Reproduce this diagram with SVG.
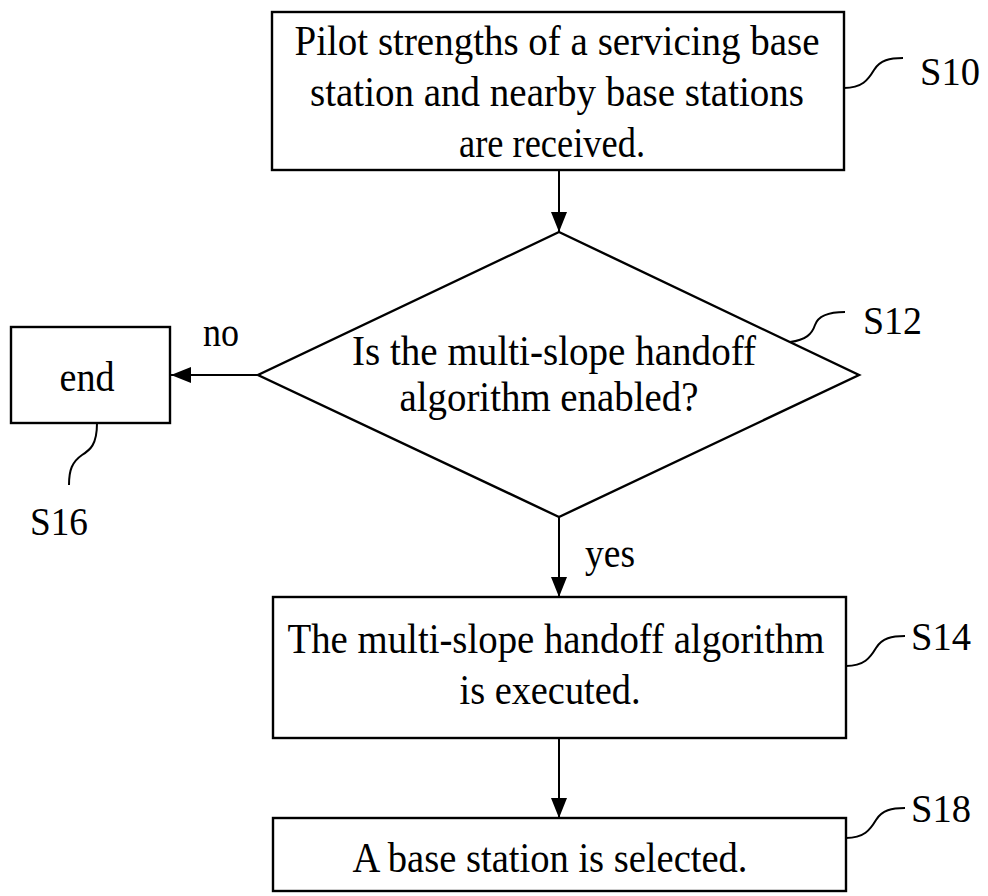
<svg xmlns="http://www.w3.org/2000/svg" width="988" height="896" viewBox="0 0 988 896">
<defs>
<style>
.box{fill:#fff;stroke:#000;stroke-width:2.4}
.t{font-family:"Liberation Serif","Times New Roman",serif;font-size:42px;fill:#000}
.lbl{font-family:"Liberation Serif","Times New Roman",serif;font-size:41px;fill:#000}
.c{text-anchor:middle}
.line{fill:none;stroke:#000;stroke-width:2}
.lead{fill:none;stroke:#000;stroke-width:2}
</style>
<marker id="ah" viewBox="0 0 20 16" refX="20" refY="8" markerWidth="20" markerHeight="16" markerUnits="userSpaceOnUse" orient="auto">
<path d="M0,0 L20,8 L0,16 Z" fill="#000"/>
</marker>
</defs>
<rect width="988" height="896" fill="#fff"/>
<g id="connectors">
<line class="line" x1="559" y1="170" x2="559" y2="232" marker-end="url(#ah)"/>
<line class="line" x1="258" y1="375" x2="171" y2="375" marker-end="url(#ah)"/>
<line class="line" x1="559" y1="517" x2="559" y2="597" marker-end="url(#ah)"/>
<line class="line" x1="559" y1="738" x2="559" y2="818" marker-end="url(#ah)"/>
<text class="t" x="203" y="346" textLength="36" lengthAdjust="spacingAndGlyphs">no</text>
<text class="t" x="585" y="567" textLength="50" lengthAdjust="spacingAndGlyphs">yes</text>
</g>
<g id="S10">
<rect class="box" x="272" y="12" width="572" height="158"/>
<text class="t c" x="557" y="55" textLength="525" lengthAdjust="spacingAndGlyphs">Pilot strengths of a servicing base</text>
<text class="t c" x="557" y="106" textLength="494" lengthAdjust="spacingAndGlyphs">station and nearby base stations</text>
<text class="t c" x="552" y="157" textLength="186" lengthAdjust="spacingAndGlyphs">are received.</text>
<path class="lead" d="M844,88 C862,88 868,80 874,70 C880,60 890,58 903,58"/>
<text class="lbl" x="920" y="85" textLength="60" lengthAdjust="spacingAndGlyphs">S10</text>
</g>
<g id="S12">
<polygon class="box" points="559,232 859,375 559,517 258,375"/>
<text class="t c" x="554" y="365" textLength="404" lengthAdjust="spacingAndGlyphs">Is the multi-slope handoff</text>
<text class="t c" x="549" y="411" textLength="299" lengthAdjust="spacingAndGlyphs">algorithm enabled?</text>
<path class="lead" d="M790,342 C806,340 812,334 815,325 C818,316 828,312 845,312"/>
<text class="lbl" x="863" y="334" textLength="59" lengthAdjust="spacingAndGlyphs">S12</text>
</g>
<g id="S16">
<rect class="box" x="11" y="327" width="159" height="96"/>
<text class="t c" x="87" y="391" textLength="55" lengthAdjust="spacingAndGlyphs">end</text>
<path class="lead" d="M97,423 C97,445 90,450 82,455 C72,462 69,470 69,485"/>
<text class="lbl" x="30" y="535" textLength="58" lengthAdjust="spacingAndGlyphs">S16</text>
</g>
<g id="S14">
<rect class="box" x="273" y="597" width="573" height="141"/>
<text class="t c" x="556" y="653" textLength="537" lengthAdjust="spacingAndGlyphs">The multi-slope handoff algorithm</text>
<text class="t c" x="550" y="704" textLength="181" lengthAdjust="spacingAndGlyphs">is executed.</text>
<path class="lead" d="M846,666 C864,666 870,658 876,648 C882,638 892,636 905,636"/>
<text class="lbl" x="911" y="650" textLength="60" lengthAdjust="spacingAndGlyphs">S14</text>
</g>
<g id="S18">
<rect class="box" x="273" y="818" width="573" height="73"/>
<text class="t c" x="550" y="872" textLength="395" lengthAdjust="spacingAndGlyphs">A base station is selected.</text>
<path class="lead" d="M846,838 C864,838 870,830 876,820 C882,810 892,808 905,808"/>
<text class="lbl" x="911" y="822" textLength="60" lengthAdjust="spacingAndGlyphs">S18</text>
</g>
</svg>
